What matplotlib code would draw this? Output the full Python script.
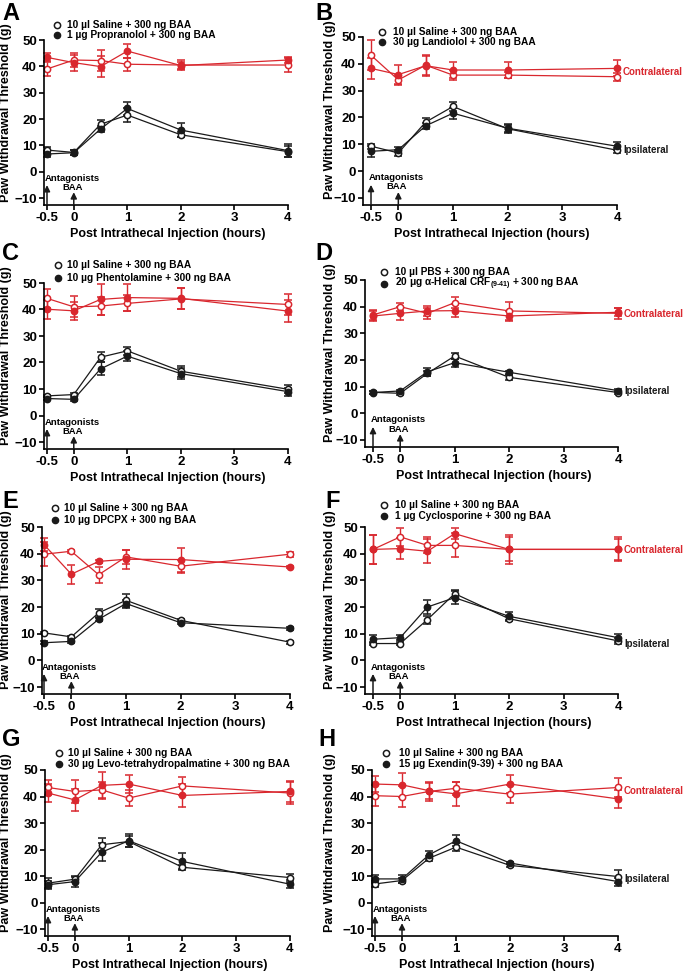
import matplotlib.pyplot as plt

plt.rcParams['font.family'] = ['Liberation Sans', 'DejaVu Sans']
plt.rcParams['font.weight'] = 'bold'
plt.rcParams['mathtext.fontset'] = 'custom'
plt.rcParams['mathtext.bf'] = 'Liberation Sans:bold'
plt.rcParams['mathtext.rm'] = 'Liberation Sans:bold'
plt.rcParams['mathtext.default'] = 'bf'

hours = [-0.5, 0, 0.5, 1, 2, 4]
xticks = [-0.5, 0, 1, 2, 3, 4]
xticklabels = ['-0.5', '0', '1', '2', '3', '4']
yticks = [-10, 0, 10, 20, 30, 40, 50]

# contralateral (red) / ipsilateral (black); open = saline/PBS, filled = antagonist
A_red_open = [39.0, 42.4, 42.2, 40.8, 40.5, 40.5]
A_red_open_err = [2.5, 2.5, 4.0, 2.5, 2.0, 2.5]
A_red_fill = [43.4, 41.4, 39.9, 45.8, 40.3, 42.4]
A_red_fill_err = [1.5, 3.0, 4.0, 2.5, 1.5, 1.0]
A_blk_open = [8.2, 7.3, 18.0, 21.5, 14.0, 7.6]
A_blk_open_err = [1.0, 1.0, 1.5, 2.5, 1.0, 2.0]
A_blk_fill = [6.7, 7.2, 16.2, 24.0, 15.8, 8.0]
A_blk_fill_err = [1.0, 1.0, 1.0, 2.5, 2.5, 2.5]

B_red_open = [43.2, 34.0, 39.5, 35.8, 35.8, 35.2]
B_red_open_err = [5.5, 2.0, 3.5, 2.0, 1.0, 1.5]
B_red_fill = [38.3, 36.0, 39.3, 37.7, 37.7, 38.3]
B_red_fill_err = [4.0, 3.5, 4.0, 3.0, 3.0, 3.0]
B_blk_open = [9.3, 6.8, 18.3, 24.1, 15.8, 7.8]
B_blk_open_err = [1.0, 1.0, 1.5, 1.5, 1.5, 1.0]
B_blk_fill = [7.4, 8.0, 16.9, 21.6, 16.0, 9.3]
B_blk_fill_err = [2.0, 1.0, 1.0, 2.0, 1.5, 1.5]

C_red_open = [44.2, 41.0, 41.3, 42.3, 44.0, 41.9]
C_red_open_err = [3.5, 4.0, 3.5, 3.0, 4.0, 4.0]
C_red_fill = [40.1, 39.5, 43.8, 44.5, 44.2, 39.4]
C_red_fill_err = [3.5, 3.5, 6.0, 5.0, 4.0, 4.0]
C_blk_open = [7.4, 7.9, 22.0, 24.4, 16.7, 9.9]
C_blk_open_err = [0.5, 0.5, 2.0, 1.5, 2.0, 1.5]
C_blk_fill = [6.4, 6.1, 17.6, 22.4, 15.8, 9.0]
C_blk_fill_err = [0.5, 0.5, 2.5, 2.0, 2.0, 1.5]

D_red_open = [36.9, 40.0, 37.5, 41.5, 38.4, 37.5]
D_red_open_err = [2.0, 1.5, 2.0, 2.0, 3.5, 2.0]
D_red_fill = [36.5, 37.5, 38.4, 38.5, 36.5, 37.9]
D_red_fill_err = [2.0, 2.5, 2.0, 2.5, 2.0, 1.5]
D_blk_open = [7.9, 7.5, 15.0, 21.5, 13.5, 7.8]
D_blk_open_err = [0.5, 0.5, 1.0, 1.0, 1.0, 0.5]
D_blk_fill = [7.8, 8.4, 15.6, 19.0, 15.4, 8.5]
D_blk_fill_err = [0.5, 0.5, 1.5, 1.5, 0.5, 0.5]

E_red_open = [39.8, 40.9, 32.1, 38.8, 35.3, 39.8]
E_red_open_err = [4.5, 0.5, 3.0, 2.5, 2.5, 1.0]
E_red_fill = [43.4, 32.3, 37.1, 37.9, 37.8, 35.0]
E_red_fill_err = [2.5, 3.5, 0.5, 3.5, 4.5, 0.5]
E_blk_open = [10.3, 8.8, 17.8, 22.5, 15.0, 6.8]
E_blk_open_err = [0.5, 0.5, 1.5, 2.5, 0.5, 0.5]
E_blk_fill = [6.6, 7.1, 15.4, 21.3, 14.1, 12.0]
E_blk_fill_err = [0.5, 0.5, 0.5, 1.5, 0.5, 0.5]

F_red_open = [41.6, 46.3, 43.1, 43.1, 41.6, 41.6]
F_red_open_err = [5.5, 3.5, 3.0, 4.5, 5.5, 4.5]
F_red_fill = [41.6, 41.9, 40.9, 47.5, 41.6, 41.6]
F_red_fill_err = [5.5, 4.0, 4.5, 2.0, 4.5, 4.0]
F_blk_open = [6.3, 6.3, 15.3, 25.0, 15.6, 7.3]
F_blk_open_err = [0.5, 0.5, 1.5, 1.5, 1.0, 1.0]
F_blk_fill = [7.9, 8.5, 20.0, 23.5, 16.5, 8.5]
F_blk_fill_err = [1.5, 1.0, 2.5, 2.5, 1.5, 1.5]

G_red_open = [43.4, 41.9, 42.5, 39.4, 44.0, 41.3]
G_red_open_err = [3.0, 4.5, 3.0, 3.0, 3.5, 4.0]
G_red_fill = [41.3, 38.7, 44.2, 44.7, 40.4, 41.9]
G_red_fill_err = [3.5, 4.0, 5.0, 3.5, 4.5, 4.0]
G_blk_open = [7.3, 8.8, 21.8, 23.0, 13.3, 9.4]
G_blk_open_err = [2.0, 1.0, 2.5, 2.0, 1.0, 1.5]
G_blk_fill = [6.7, 7.9, 19.0, 23.3, 15.5, 6.9]
G_blk_fill_err = [1.5, 2.0, 3.5, 2.5, 3.0, 1.5]

H_red_open = [40.3, 40.0, 41.9, 43.1, 40.9, 43.4]
H_red_open_err = [4.0, 4.0, 3.5, 2.5, 3.5, 3.5]
H_red_fill = [44.7, 44.4, 42.2, 41.0, 44.7, 39.1]
H_red_fill_err = [3.0, 4.5, 3.0, 4.5, 3.5, 3.5]
H_blk_open = [7.0, 8.3, 16.7, 20.9, 14.0, 9.8]
H_blk_open_err = [1.0, 1.0, 1.0, 1.5, 0.5, 2.5]
H_blk_fill = [8.9, 8.9, 18.0, 23.3, 14.9, 7.9]
H_blk_fill_err = [1.5, 1.5, 1.5, 2.0, 0.5, 1.5]

legend_open = ['10 \u00b5l Saline + 300 ng BAA', '10 \u00b5l Saline + 300 ng BAA',
               '10 \u00b5l Saline + 300 ng BAA', '10 \u00b5l PBS + 300 ng BAA',
               '10 \u00b5l Saline + 300 ng BAA', '10 \u00b5l Saline + 300 ng BAA',
               '10 \u00b5l Saline + 300 ng BAA', '10 \u00b5l Saline + 300 ng BAA']
legend_fill = ['1 \u00b5g Propranolol + 300 ng BAA',
               '30 \u00b5g Landiolol + 300 ng BAA',
               '10 \u00b5g Phentolamine + 300 ng BAA',
               r'20 $\mathbf{\mu}$g $\mathbf{\alpha}$-Helical CRF$_{(9\text{-}41)}$ + 300 ng BAA',
               '10 \u00b5g DPCPX + 300 ng BAA',
               '1 \u00b5g Cyclosporine + 300 ng BAA',
               '30 \u00b5g Levo-tetrahydropalmatine + 300 ng BAA',
               '15 \u00b5g Exendin(9-39) + 300 ng BAA']
letters = ['A', 'B', 'C', 'D', 'E', 'F', 'G', 'H']

series = [
    (A_red_open, A_red_open_err, A_red_fill, A_red_fill_err, A_blk_open, A_blk_open_err, A_blk_fill, A_blk_fill_err),
    (B_red_open, B_red_open_err, B_red_fill, B_red_fill_err, B_blk_open, B_blk_open_err, B_blk_fill, B_blk_fill_err),
    (C_red_open, C_red_open_err, C_red_fill, C_red_fill_err, C_blk_open, C_blk_open_err, C_blk_fill, C_blk_fill_err),
    (D_red_open, D_red_open_err, D_red_fill, D_red_fill_err, D_blk_open, D_blk_open_err, D_blk_fill, D_blk_fill_err),
    (E_red_open, E_red_open_err, E_red_fill, E_red_fill_err, E_blk_open, E_blk_open_err, E_blk_fill, E_blk_fill_err),
    (F_red_open, F_red_open_err, F_red_fill, F_red_fill_err, F_blk_open, F_blk_open_err, F_blk_fill, F_blk_fill_err),
    (G_red_open, G_red_open_err, G_red_fill, G_red_fill_err, G_blk_open, G_blk_open_err, G_blk_fill, G_blk_fill_err),
    (H_red_open, H_red_open_err, H_red_fill, H_red_fill_err, H_blk_open, H_blk_open_err, H_blk_fill, H_blk_fill_err),
]

# pixel geometry: spine x, x of -0.5, x of 4, y of 50, y of -10
geom = [(44, 47, 288, 40, 198), (363, 371, 617, 37, 198),
        (44, 47, 288, 283, 442), (365, 373, 618, 280, 440),
        (42, 44, 290, 527, 687), (365, 373, 618, 527, 687),
        (45, 48, 290, 770, 929), (372, 375, 618, 770, 929)]
# legend rows (data y) and marker / text x
leg_pos = [(55.7, 51.9, -0.31, -0.13), (51.9, 48.1, -0.30, -0.10),
           (56.8, 51.9, -0.29, -0.13), (53.0, 48.5, -0.30, -0.10),
           (57.0, 52.6, -0.30, -0.14), (58.3, 54.2, -0.30, -0.10),
           (56.4, 52.3, -0.30, -0.13), (56.4, 52.3, -0.30, -0.06)]
side_labels = {1: (37.0, 8.0), 3: (37.2, 8.4), 5: (41.2, 6.2), 7: (42.1, 8.8)}
letter_xy = [(2, 13), (315, 13), (2, 253), (315, 253),
             (2, 501), (325, 501), (2, 739), (318, 739)]

W, H = 685, 972
RED = '#d9272e'
BLK = '#1a1a1a'
fig = plt.figure(figsize=(W / 100, H / 100), dpi=100)

YLO, YHI = -12.5, 50.8

for i, (sp, xm, x4, y50, ym10) in enumerate(geom):
    sx = (x4 - xm) / 4.5
    sy = (ym10 - y50) / 60.0
    xlo = -0.5 - (xm - sp) / sx
    xhi = 4 + 4 / sx
    top = y50 - (YHI - 50) * sy
    bot = ym10 + (-10 - YLO) * sy
    right = x4 + 4
    ax = fig.add_axes([sp / W, 1 - bot / H, (right - sp) / W, (bot - top) / H])
    ax.set_xlim(xlo, xhi)
    ax.set_ylim(YLO, YHI)
    for s in ['top', 'right']:
        ax.spines[s].set_visible(False)
    ax.spines['left'].set_bounds(YLO, 50)
    ax.spines['bottom'].set_bounds(xlo, 4)
    for s in ['left', 'bottom']:
        ax.spines[s].set_linewidth(1.2)
    ax.set_xticks(xticks)
    ax.set_xticklabels(xticklabels)
    ax.set_yticks(yticks)
    ax.tick_params(labelsize=9.5, width=1.2, length=3.5, pad=1.5)
    ax.set_xlabel('Post Intrathecal Injection (hours)', fontsize=9, fontweight='bold')
    ax.xaxis.set_label_coords(0.5, -29 / (bot - top))
    ax.xaxis.label.set_va('center')

    ro, roe, rf, rfe, bo, boe, bf, bfe = series[i]
    kw = dict(marker='o', ms=4.5, lw=0.9, capsize=3, elinewidth=1, capthick=1,
              clip_on=False, mew=1.1)
    ax.errorbar(hours, ro, yerr=roe, color=RED, mfc='white', mec=RED, **kw)
    ax.errorbar(hours, rf, yerr=rfe, color=RED, mfc=RED, mec=RED, **kw)
    ax.errorbar(hours, bo, yerr=boe, color=BLK, mfc='white', mec=BLK, **kw)
    ax.errorbar(hours, bf, yerr=bfe, color=BLK, mfc=BLK, mec=BLK, **kw)

    # legend above the plot
    r1, r2, mx, tx = leg_pos[i]
    ax.plot([mx], [r1], 'o', ms=4.5, mfc='white', mec=BLK, mew=1.1, clip_on=False)
    ax.plot([mx], [r2], 'o', ms=4.5, mfc=BLK, mec=BLK, clip_on=False)
    ax.text(tx, r1, legend_open[i], fontsize=7.3, va='center', ha='left')
    ax.text(tx, r2, legend_fill[i], fontsize=7.3, va='center', ha='left')

    # injection arrows
    arr = dict(arrowstyle='-|>', color=BLK, lw=1.1, mutation_scale=9, shrinkA=0, shrinkB=0)
    ax.annotate('', xy=(-0.5, -5.1), xytext=(-0.5, YLO), arrowprops=arr, annotation_clip=False)
    ax.annotate('', xy=(0, -7.8), xytext=(0, YLO), arrowprops=arr, annotation_clip=False)
    ax.text(-0.55, -2.5, 'Antagonists', fontsize=6.8, va='center', ha='left')
    ax.text(-0.03, -5.9, 'BAA', fontsize=6.8, va='center', ha='center')

    if i in side_labels:
        cy, iy = side_labels[i]
        ax.text(4.1, cy, 'Contralateral', color=RED, fontsize=7, va='center', ha='left')
        ax.text(4.12, iy, 'Ipsilateral', color=BLK, fontsize=7, va='center', ha='left')

    # y label and panel letter
    lx = 6 if i % 2 == 0 else 330
    fig.text(lx / W, 1 - (y50 + 73) / H, 'Paw Withdrawal Threshold (g)', rotation=90,
             fontsize=9, ha='center', va='center')
    lx, ly = letter_xy[i]
    fig.text(lx / W, 1 - ly / H, letters[i], fontsize=17, ha='left', va='center')

fig.savefig('out.png', dpi=100)
